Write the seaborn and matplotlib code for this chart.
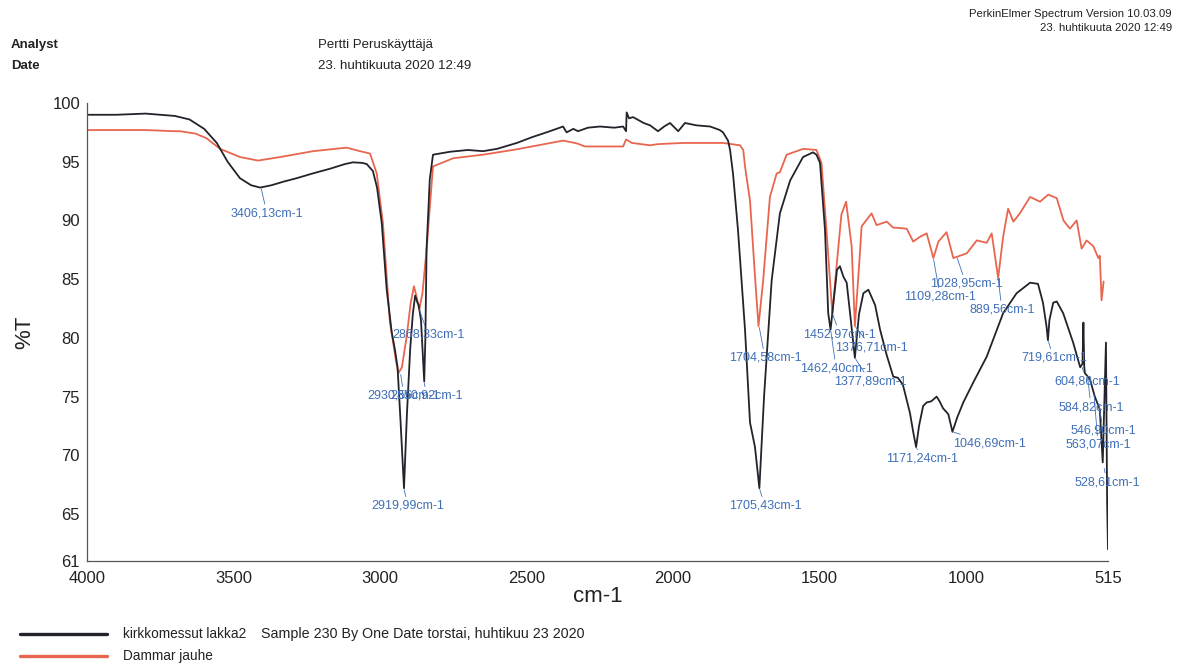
import numpy as np
import pandas as pd
import matplotlib.pyplot as plt
import seaborn as sns
from matplotlib.lines import Line2D

# Spectrum 1: kirkkomessut lakka2 (black)
lakka_wn = [4000, 3900, 3800, 3700, 3650, 3600, 3557, 3520, 3478, 3440, 3409, 3370, 3330, 3284,
            3230, 3171, 3120, 3092, 3060, 3045, 3024, 3010, 2994, 2977, 2960, 2949, 2940, 2930,
            2918, 2908, 2897, 2888, 2880, 2872, 2868, 2860, 2849, 2845, 2841, 2830, 2819, 2761,
            2700, 2648, 2600, 2533, 2480, 2420, 2375, 2363, 2340, 2324, 2290, 2249, 2200, 2170,
            2160, 2158, 2150, 2136, 2100, 2078, 2051, 2030, 2010, 1982, 1959, 1920, 1873, 1840,
            1829, 1812, 1805, 1795, 1778, 1754, 1737, 1720, 1705, 1689, 1663, 1635, 1600, 1556,
            1522, 1510, 1498, 1481, 1470, 1462, 1450, 1440, 1430, 1418, 1407, 1395, 1379, 1365,
            1350, 1333, 1310, 1293, 1270, 1248, 1232, 1215, 1191, 1180, 1170, 1160, 1146, 1134,
            1118, 1100, 1090, 1078, 1060, 1046, 1030, 1009, 975, 929, 873, 827, 781, 754, 737,
            725, 720, 715, 702, 690, 668, 634, 610, 602, 599, 596, 594, 577, 560, 543, 533, 522,
            518, 515]
lakka_T = [99.0, 99.0, 99.1, 98.9, 98.6, 97.8, 96.6, 95.0, 93.6, 93.0, 92.8, 93.0, 93.3, 93.6,
           94.0, 94.4, 94.8, 94.95, 94.9, 94.8, 94.2, 92.8, 89.8, 84.1, 80.5, 79.0, 77.5, 73.0,
           67.2, 73.5, 79.0, 82.0, 83.6, 83.0, 82.8, 81.5, 76.3, 80.0, 87.5, 93.5, 95.6, 95.85,
           96.0, 95.9, 96.1, 96.6, 97.1, 97.6, 98.0, 97.5, 97.8, 97.6, 97.9, 98.0, 97.9, 98.0,
           97.6, 99.2, 98.7, 98.8, 98.3, 98.1, 97.6, 98.0, 98.3, 97.6, 98.3, 98.1, 98.0, 97.7,
           97.5, 96.8, 96.0, 94.0, 89.2, 80.7, 72.8, 70.7, 67.2, 75.0, 84.9, 90.6, 93.4, 95.4,
           95.8, 95.6, 94.9, 89.2, 82.1, 80.7, 83.5, 85.8, 86.1, 85.2, 84.7, 82.0, 78.3, 82.0,
           83.8, 84.1, 82.8, 80.7, 78.5, 76.7, 76.6, 76.0, 73.6, 72.0, 70.7, 72.5, 74.2, 74.5,
           74.6, 75.0, 74.6, 74.0, 73.5, 72.0, 73.2, 74.5, 76.2, 78.4, 82.1, 83.8, 84.7, 84.6, 83.0,
           81.0, 79.8, 81.5, 83.0, 83.1, 82.1, 79.6, 77.5, 77.8, 81.3, 77.5, 77.0, 76.5, 75.0, 73.9,
           69.4, 79.6, 66.0, 62.0]

# Spectrum 2: Dammar jauhe (red)
dammar_wn = [4000, 3900, 3800, 3700, 3683, 3630, 3592, 3546, 3478, 3416, 3341, 3228, 3114, 3068,
             3034, 3011, 2990, 2966, 2960, 2945, 2937, 2925, 2909, 2895, 2884, 2875, 2866, 2855,
             2841, 2819, 2750, 2648, 2533, 2375, 2329, 2300, 2170, 2160, 2140, 2078, 2051, 1966,
             1829, 1771, 1760, 1754, 1737, 1719, 1708, 1692, 1669, 1646, 1635, 1612, 1555, 1510,
             1493, 1476, 1456, 1440, 1425, 1409, 1390, 1379, 1365, 1356, 1322, 1305, 1270, 1249,
             1202, 1180, 1157, 1134, 1111, 1094, 1066, 1043, 1031, 997, 963, 929, 912, 890, 873,
             856, 838, 816, 781, 747, 719, 690, 667, 645, 622, 605, 588, 565, 548, 543, 537, 530]
dammar_T = [97.7, 97.7, 97.7, 97.6, 97.6, 97.4, 97.0, 96.1, 95.4, 95.1, 95.4, 95.9, 96.2, 95.9,
            95.7, 94.0, 89.8, 81.3, 80.4, 78.0, 77.0, 77.5, 80.1, 83.0, 84.4, 83.5, 82.4, 83.8,
            87.5, 94.6, 95.3, 95.6, 96.06, 96.8, 96.57, 96.3, 96.3, 96.9, 96.6, 96.4, 96.5, 96.6,
            96.6, 96.4, 96.0, 94.6, 91.7, 84.9, 81.0, 84.9, 92.0, 94.0, 94.1, 95.6, 96.1, 96.0,
            94.9, 89.2, 82.1, 86.5, 90.5, 91.6, 87.8, 81.0, 86.0, 89.5, 90.6, 89.6, 89.9, 89.4,
            89.3, 88.2, 88.6, 88.9, 86.8, 88.2, 89.0, 86.8, 86.9, 87.2, 88.3, 88.1, 88.9, 85.1, 88.6,
            91.0, 89.9, 90.6, 92.0, 91.6, 92.2, 91.9, 90.0, 89.3, 90.0, 87.6, 88.3, 87.8, 86.8, 87.0,
            83.2, 84.8]

# Peak labels: text, peak wavenumber, peak %T
peak_labels = ["3406,13cm-1", "2868,33cm-1", "2930,56cm-1", "2850,92cm-1", "2919,99cm-1",
               "1704,58cm-1", "1705,43cm-1", "1452,97cm-1", "1376,71cm-1", "1462,40cm-1",
               "1377,89cm-1", "1171,24cm-1", "1046,69cm-1", "1028,95cm-1", "1109,28cm-1",
               "889,56cm-1", "719,61cm-1", "604,86cm-1", "584,82cm-1", "546,90cm-1",
               "563,07cm-1", "528,61cm-1"]
peak_wn = [3406, 2868, 2930, 2850, 2919, 1706, 1705, 1456, 1379, 1462, 1379, 1170, 1046, 1031,
           1111, 890, 720, 605, 585, 547, 563, 529]
peak_T = [92.8, 82.6, 77.0, 76.3, 67.2, 81.0, 67.2, 82.1, 81.0, 80.7, 78.3, 70.7, 72.0, 86.9,
          86.8, 85.1, 79.8, 77.6, 76.8, 74.5, 75.3, 69.0]
# where each label sits (wavenumber, %T)
label_pos = [(3386, 90.6), (2836, 80.25), (2918, 75.06), (2840, 75.06), (2904, 65.7),
             (1686, 78.3), (1686, 65.7), (1430, 80.3), (1321, 79.2), (1443, 77.4),
             (1327, 76.3), (1150, 69.7), (918, 71.0), (1000, 84.6), (1088, 83.5),
             (877, 82.4), (700, 78.3), (587, 76.3), (573, 74.1), (532, 72.1),
             (549, 70.9), (518, 67.7)]

x_ticks = [4000, 3500, 3000, 2500, 2000, 1500, 1000, 515]
y_ticks = [100, 95, 90, 85, 80, 75, 70, 65, 61]

black = "#23232b"
red = "#e8664f"
blue = "#3f6fb8"
ink = "#222222"

df = pd.concat([
    pd.DataFrame({"cm-1": lakka_wn, "%T": lakka_T, "sample": "kirkkomessut lakka2"}),
    pd.DataFrame({"cm-1": dammar_wn, "%T": dammar_T, "sample": "Dammar jauhe"}),
])

sns.set_style("white")
plt.rcParams['font.family'] = ['Liberation Sans', 'DejaVu Sans']

fig = plt.figure(figsize=(11.95, 6.66), dpi=100)
ax = fig.add_axes([0.0728, 0.1577, 0.8544, 0.6876])

sns.lineplot(data=df, x="cm-1", y="%T", hue="sample", sort=False, estimator=None,
             palette={"kirkkomessut lakka2": black, "Dammar jauhe": red},
             hue_order=["Dammar jauhe", "kirkkomessut lakka2"],
             linewidth=1.3, legend=False, ax=ax)

ax.set_xlim(4000, 515)
ax.set_ylim(61, 100)
ax.set_xticks(x_ticks)
ax.set_yticks(y_ticks)
ax.tick_params(axis='both', labelsize=12, width=0.8, colors='#555555', labelcolor=ink)
ax.tick_params(axis='x', direction='in', length=5, pad=7)
ax.tick_params(axis='y', direction='out', length=4, pad=1)
for s in ['top', 'right']:
    ax.spines[s].set_visible(False)
for s in ['left', 'bottom']:
    ax.spines[s].set_color('#555555')
    ax.spines[s].set_linewidth(0.9)
ax.set_xlabel("cm-1", fontsize=16, labelpad=0, color=ink)
ax.set_ylabel("%T", fontsize=16, labelpad=12, color=ink)

for txt, px, py, (tx, ty) in zip(peak_labels, peak_wn, peak_T, label_pos):
    ax.annotate(txt, xy=(px, py), xytext=(tx, ty), ha='center', va='center',
                fontsize=9, color=blue,
                arrowprops=dict(arrowstyle='-', color=blue, lw=0.6, shrinkA=0, shrinkB=1))

# header
fig.text(11 / 1195, 1 - 45 / 666, "Analyst", fontsize=9.5, fontweight='bold', va='center', color=ink)
fig.text(11 / 1195, 1 - 66 / 666, "Date", fontsize=9.5, fontweight='bold', va='center', color=ink)
fig.text(318 / 1195, 1 - 45 / 666, "Pertti Peruskäyttäjä", fontsize=9.5, va='center', color=ink)
fig.text(318 / 1195, 1 - 66 / 666, "23. huhtikuuta 2020 12:49", fontsize=9.5, va='center', color=ink)
fig.text(1172 / 1195, 1 - 14 / 666, "PerkinElmer Spectrum Version 10.03.09", fontsize=8.2,
         ha='right', va='center', color=ink)
fig.text(1172 / 1195, 1 - 28 / 666, "23. huhtikuuta 2020 12:49", fontsize=8.2,
         ha='right', va='center', color=ink)

# legend at the bottom
fig.add_artist(Line2D([20 / 1195, 107 / 1195], [1 - 634 / 666] * 2, color=black, lw=2.4))
fig.add_artist(Line2D([20 / 1195, 107 / 1195], [1 - 656 / 666] * 2, color=red, lw=2.4))
fig.text(123 / 1195, 1 - 634 / 666, "kirkkomessut lakka2", fontsize=9.8, va='center', color=ink)
fig.text(261 / 1195, 1 - 634 / 666, "Sample 230 By One Date torstai, huhtikuu 23 2020",
         fontsize=10.3, va='center', color=ink)
fig.text(123 / 1195, 1 - 656 / 666, "Dammar jauhe", fontsize=9.8, va='center', color=ink)

fig.savefig("out.png", dpi=100)
